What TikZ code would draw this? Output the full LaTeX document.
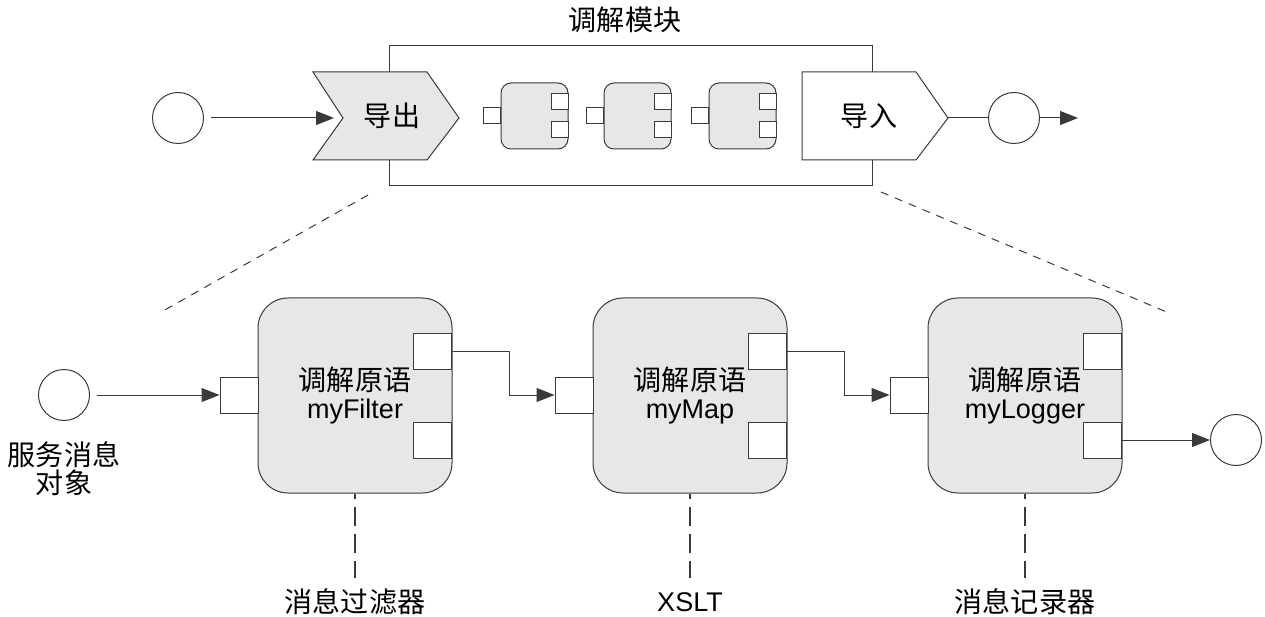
\documentclass[tikz,border=0pt]{standalone}
\usepackage{fontspec}
\setmainfont{Liberation Sans}
\newfontfamily\cjk[Scale=1.04]{Noto Sans CJK SC}
\usetikzlibrary{arrows.meta}
\definecolor{boxgray}{HTML}{E6E7E8}
\definecolor{edge}{HTML}{3A3A3A}
\tikzset{
  line/.style={line width=1pt,draw=edge},
  arr/.style={line,-{Triangle[length=18pt,width=14pt]}},
  endpt/.style={circle,draw=edge,line width=1pt,minimum size=51pt,inner sep=0pt},
  port/.style={draw=edge,line width=1pt,fill=white,minimum width=38pt,minimum height=36pt,inner sep=0pt},
  miniport/.style={port,minimum width=17pt,minimum height=16pt},
  prim/.style={draw=edge,line width=1pt,fill=boxgray,rounded corners=30pt,minimum width=194pt,
    minimum height=195pt,inner sep=0pt,align=center},
  mini/.style={prim,rounded corners=10pt,minimum width=67pt,minimum height=66pt},
  txt/.style={font=\fontsize{27}{28}\selectfont,inner sep=2pt,align=center},
  vdash/.style={line width=2pt,draw=edge,dash pattern=on 19pt off 8pt,dash phase=14pt},
  ddash/.style={line width=1pt,draw=edge,dash pattern=on 8pt off 7pt}
}
\begin{document}
\begin{tikzpicture}[x=1pt,y=-1pt]
\useasboundingbox(0,0)rectangle(1265,617);
\begin{scope}[txt]
% mediation module on top
\node(title)at(625,20){\cjk 调解模块};
\draw[line](389,46)rectangle(872,186);
\draw[line,fill=boxgray](313,72)--(427,72)--(459,118)--(427,160)--(313,160)--(343,118)--cycle;
\draw[line,fill=white](802,72)--(916,72)--(948,118)--(916,160)--(802,160)--cycle;
\coordinate(expnotch)at(343,118);\coordinate(imptip)at(948,118);
\node(exp)at(392,116){\cjk 导出};
\node(imp)at(869,116){\cjk 导入};
\foreach \i/\x in{1/534.5,2/637.5,3/742.5}{
\node[mini](s\i)at(\x,116){};
\node[miniport](si\i)at(\x-42.5,116){};
\node[miniport](sa\i)at(\x+25,102){};
\node[miniport](sb\i)at(\x+25,130){};}
\node[endpt](c1)at(178,118){};
\node[endpt](c2)at(1014,118){};
\coordinate(c2out)at(1078,118);
\draw[arr,shorten <=7pt,shorten >=9pt](c1)--(expnotch);
\draw[line](imptip)--(c2);
\draw[arr](c2)--(c2out);
% zoom lines
\draw[ddash](368,195)--(163,311);
\draw[ddash](881,192)--(1169,313);
% mediation primitives
\foreach \i/\x/\nm/\lab in{1/355/myFilter/{\cjk 消息过滤器},2/690/myMap/XSLT,3/1025/myLogger/{\cjk 消息记录器}}{
\node[prim](m\i)at(\x,395.5){{\cjk 调解原语}\\\nm};
\node[port](in\i)at(\x-116,395){};
\node[port](oa\i)at(\x+77.5,351){};
\node[port](ob\i)at(\x+77.5,440){};
\node(lab\i)at(\x,602){\lab};
\draw[vdash](m\i.south)--(\x,578);}
\node[endpt](c3)at(64,395){};
\node(c3lab)at(64,469){{\cjk 服务消息}\\{\cjk 对象}};
\node[endpt](c4)at(1236,440){};
\draw[arr,shorten <=7pt](c3)--(in1);
\draw[arr](oa1.east)--++(57,0)|-(in2);
\draw[arr](oa2.east)--++(57,0)|-(in3);
\draw[arr](ob3.east)--(c4);
\end{scope}
\end{tikzpicture}
\end{document}
